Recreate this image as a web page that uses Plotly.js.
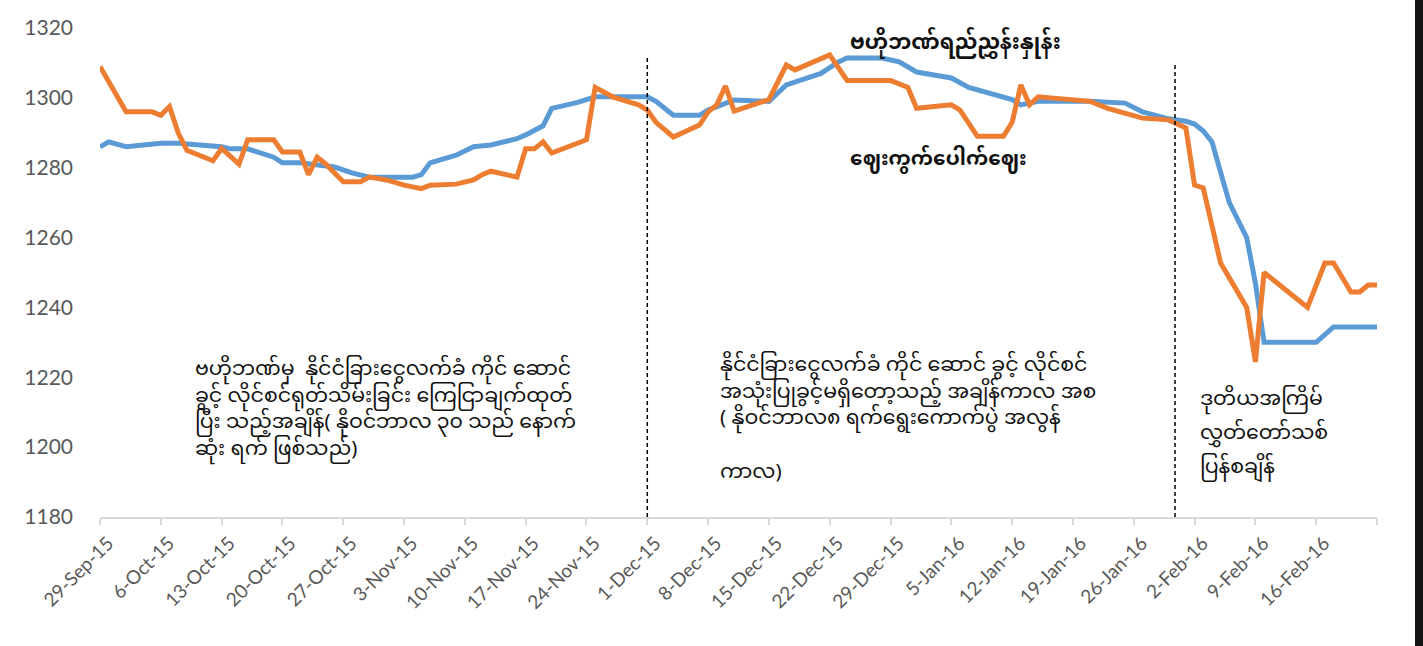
<!DOCTYPE html>
<html>
<head>
<meta charset="utf-8">
<script src="https://cdn.plot.ly/plotly-3.0.1.min.js"></script>
<style>
  html, body { margin: 0; padding: 0; background: #141414; }
  #chart { width: 1415px; height: 646px; background: #fff; }
</style>
</head>
<body>
<div id="chart"></div>
<script>
// ---- Data ----
const refDates = ['2015-09-29','2015-09-30','2015-10-02','2015-10-06','2015-10-08','2015-10-13','2015-10-14','2015-10-16','2015-10-19','2015-10-20','2015-10-22','2015-10-26','2015-10-28','2015-10-30','2015-11-04','2015-11-05','2015-11-06','2015-11-09','2015-11-11','2015-11-13','2015-11-16','2015-11-17','2015-11-19','2015-11-20','2015-11-23','2015-11-25','2015-12-01','2015-12-02','2015-12-04','2015-12-07','2015-12-08','2015-12-11','2015-12-15','2015-12-17','2015-12-21','2015-12-23','2015-12-24','2015-12-28','2015-12-30','2016-01-01','2016-01-05','2016-01-07','2016-01-12','2016-01-13','2016-01-15','2016-01-21','2016-01-25','2016-01-27','2016-01-30','2016-02-01','2016-02-02','2016-02-03','2016-02-04','2016-02-06','2016-02-08','2016-02-09','2016-02-10','2016-02-16','2016-02-18','2016-02-23'];
const refRate  = [1286,1287.4,1286,1287,1287,1286,1285.4,1285.4,1283,1281.4,1281.4,1280.2,1278.5,1277.3,1277.3,1278,1281.4,1283.6,1286,1286.5,1288.3,1289.4,1292,1297,1298.7,1300.3,1300.3,1299,1295,1295,1296.5,1299.4,1299,1303.7,1307,1310.3,1311.4,1311.4,1310.3,1307.4,1305.7,1303,1299.5,1298,1299,1299,1298.5,1296,1294,1293.3,1292.5,1290.5,1287.4,1270,1260,1247,1230,1230,1234.4,1234.4];

const mktDates = ['2015-09-29','2015-10-02','2015-10-05','2015-10-06','2015-10-07','2015-10-08','2015-10-09','2015-10-12','2015-10-13','2015-10-15','2015-10-16','2015-10-19','2015-10-20','2015-10-22','2015-10-23','2015-10-24','2015-10-25','2015-10-27','2015-10-29','2015-10-30','2015-11-01','2015-11-03','2015-11-05','2015-11-06','2015-11-09','2015-11-11','2015-11-12','2015-11-13','2015-11-16','2015-11-17','2015-11-18','2015-11-19','2015-11-20','2015-11-24','2015-11-25','2015-11-27','2015-11-30','2015-12-01','2015-12-02','2015-12-04','2015-12-07','2015-12-08','2015-12-09','2015-12-10','2015-12-11','2015-12-14','2015-12-15','2015-12-17','2015-12-18','2015-12-22','2015-12-24','2015-12-29','2015-12-31','2016-01-01','2016-01-05','2016-01-06','2016-01-08','2016-01-11','2016-01-12','2016-01-13','2016-01-14','2016-01-15','2016-01-21','2016-01-23','2016-01-27','2016-01-30','2016-02-01','2016-02-02','2016-02-03','2016-02-05','2016-02-08','2016-02-09','2016-02-10','2016-02-15','2016-02-17','2016-02-18','2016-02-20','2016-02-21','2016-02-22','2016-02-23'];
const mktRate  = [1309,1296,1296,1295,1297.5,1290,1285,1282,1285.5,1281,1288,1288,1284.5,1284.5,1278,1283,1281,1276,1276,1277.3,1276.5,1275,1274,1275,1275.3,1276.5,1278,1279,1277.3,1285.4,1285.4,1287.4,1284.2,1288,1303,1300.3,1298,1296.5,1293,1288.8,1292.2,1296,1298,1303.4,1296.2,1298.5,1299.5,1309.4,1308,1312.3,1305,1305,1303,1297,1298,1296.5,1289,1289,1293,1303.7,1298,1300.3,1299,1297,1294.2,1293.7,1291.4,1275,1274.2,1252.7,1240,1224.4,1250,1240,1252.7,1252.7,1244.4,1244.4,1246.4,1246.4];

const tickDates  = ['2015-09-29','2015-10-06','2015-10-13','2015-10-20','2015-10-27','2015-11-03','2015-11-10','2015-11-17','2015-11-24','2015-12-01','2015-12-08','2015-12-15','2015-12-22','2015-12-29','2016-01-05','2016-01-12','2016-01-19','2016-01-26','2016-02-02','2016-02-09','2016-02-16','2016-02-23'];
const tickLabels = ['29-Sep-15','6-Oct-15','13-Oct-15','20-Oct-15','27-Oct-15','3-Nov-15','10-Nov-15','17-Nov-15','24-Nov-15','1-Dec-15','8-Dec-15','15-Dec-15','22-Dec-15','29-Dec-15','5-Jan-16','12-Jan-16','19-Jan-16','26-Jan-16','2-Feb-16','9-Feb-16','16-Feb-16',''];
const yTicks = [1180,1200,1220,1240,1260,1280,1300,1320];

const seriesNames = ['ဗဟိုဘဏ်ရည်ညွှန်းနှုန်း', 'ဈေးကွက်ပေါက်ဈေး'];
const periodMarks = ['2015-12-01', '2016-01-30 18:00'];

const noteLeft  = ['ဗဟိုဘဏ်မှ  နိုင်ငံခြားငွေလက်ခံ ကိုင် ဆောင်', 'ခွင့် လိုင်စင်ရုတ်သိမ်းခြင်း ကြေငြာချက်ထုတ်', 'ပြီး သည့်အချိန်( နိုဝင်ဘာလ ၃၀ သည် နောက်', 'ဆုံး ရက် ဖြစ်သည်)'];
const noteMid   = ['နိုင်ငံခြားငွေလက်ခံ ကိုင် ဆောင် ခွင့် လိုင်စင်', 'အသုံးပြုခွင့်မရှိတော့သည့် အချိန်ကာလ အစ', '( နိုဝင်ဘာလ၈ ရက်ရွေးကောက်ပွဲ အလွန်', '', 'ကာလ)'];
const noteRight = ['ဒုတိယအကြိမ်', 'လွှတ်တော်သစ်', 'ပြန်စချိန်'];

// ---- Layout helpers (pixel -> paper) ----
const PL = 100, PR = 1377, PT = 28, PB = 517;
const px = x => (x - PL) / (PR - PL);
const py = y => (PB - y) / (PB - PT);

const textFont = {family: 'Noto Sans Myanmar, Padauk, Myanmar Text, Noto Sans, DejaVu Sans, sans-serif', size: 20.5, color: '#111'};

function block(lines, x, yc) {
  return {xref: 'paper', yref: 'paper', x: px(x), y: py(yc), xanchor: 'left', yanchor: 'middle',
    align: 'left', text: lines.join('<br>'), showarrow: false, font: textFont};
}
const annotations = [
  block(noteLeft, 193, 410),
  block(noteMid, 718, 420),
  block([noteRight[0]], 1198, 400),
  block([noteRight[1]], 1198, 434),
  block([noteRight[2]], 1198, 468),
  {xref: 'paper', yref: 'paper', x: px(955), y: py(44), xanchor: 'center', yanchor: 'middle',
   text: '<b>' + seriesNames[0] + '</b>', showarrow: false, font: Object.assign({}, textFont, {size: 21})},
  {xref: 'paper', yref: 'paper', x: px(938), y: py(160), xanchor: 'center', yanchor: 'middle',
   text: '<b>' + seriesNames[1] + '</b>', showarrow: false, font: Object.assign({}, textFont, {size: 20})}
];

const shapes = [
  {type: 'line', xref: 'x', yref: 'y', x0: periodMarks[0], x1: periodMarks[0], y0: 1180, y1: 1311.7,
   line: {color: '#000', width: 1.5, dash: '4px,3px'}},
  {type: 'line', xref: 'x', yref: 'y', x0: periodMarks[1], x1: periodMarks[1], y0: 1180, y1: 1309.4,
   line: {color: '#000', width: 1.5, dash: '4px,3px'}}
];

const traces = [
  {x: refDates, y: refRate, name: seriesNames[0], type: 'scatter', mode: 'lines',
   line: {color: '#5b9bd5', width: 5, shape: 'linear'}},
  {x: mktDates, y: mktRate, name: seriesNames[1], type: 'scatter', mode: 'lines',
   line: {color: '#ed7d31', width: 5, shape: 'linear'}}
];

const layout = {
  width: 1415, height: 646,
  margin: {l: PL, r: 1415 - PR, t: PT, b: 646 - PB},
  paper_bgcolor: '#ffffff', plot_bgcolor: '#ffffff',
  showlegend: false,
  font: {family: 'Lato, Open Sans, sans-serif', color: '#595959'},
  xaxis: {
    type: 'date', range: ['2015-09-29', '2016-02-23'],
    tickmode: 'array', tickvals: tickDates, ticktext: tickLabels, tickangle: -45,
    tickfont: {size: 19, color: '#595959'},
    showgrid: false, zeroline: false,
    showline: true, linecolor: '#d9d9d9', linewidth: 1.5,
    ticks: 'outside', ticklen: 6, tickcolor: '#d9d9d9', tickwidth: 1.5,
    ticklabelshift: 8
  },
  yaxis: {
    range: [1180, 1320], tickmode: 'array', tickvals: yTicks,
    tickfont: {size: 21, color: '#595959'},
    showgrid: false, zeroline: false, showline: false, ticks: '',
    ticklabelstandoff: 26
  },
  annotations: annotations,
  shapes: shapes
};

Plotly.newPlot('chart', traces, layout, {displayModeBar: false, responsive: false});
</script>
</body>
</html>
